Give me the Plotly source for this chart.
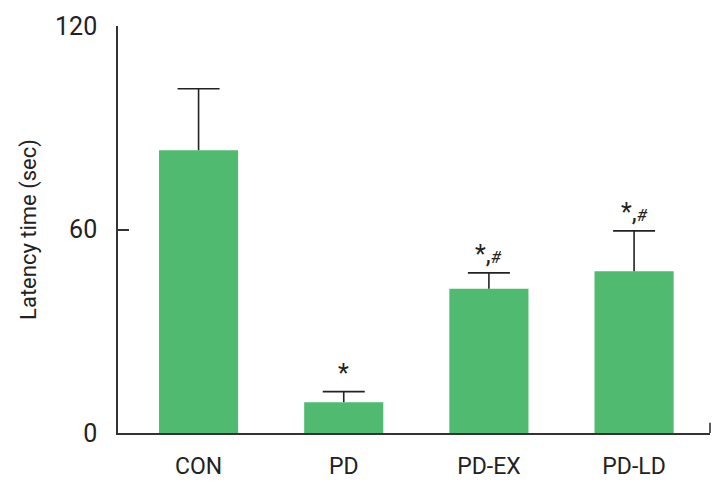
import plotly.graph_objects as go

# group means and SD (latency, sec)
GROUPS = ["CON", "PD", "PD-EX", "PD-LD"]
MEANS = [83.4, 9.1, 42.5, 47.7]
SDS = [18.1, 3.1, 4.7, 11.9]
MARKS = ["", "*", "*,<span style='font-size:17px'><i>#</i></span>", "*,<span style='font-size:17px'><i>#</i></span>"]
Y_TICKS = [0, 60, 120]

BAR_COLOR = "#50BB70"
AXIS_COLOR = "#333333"
ERR_COLOR = "#222222"
FONT = "Roboto, Arial, sans-serif"

xs = list(range(len(GROUPS)))
tops = [m + s for m, s in zip(MEANS, SDS)]

fig = go.Figure()

fig.add_trace(
    go.Bar(
        x=xs,
        y=MEANS,
        width=0.545,
        marker=dict(color=BAR_COLOR, line=dict(width=0)),
        showlegend=False,
        hoverinfo="skip",
    )
)

# upper error stems (mean -> mean + SD)
stem_x, stem_y = [], []
for x, m, t in zip(xs, MEANS, tops):
    stem_x += [x, x, None]
    stem_y += [m, t, None]
fig.add_trace(
    go.Scatter(
        x=stem_x, y=stem_y, mode="lines",
        line=dict(color=ERR_COLOR, width=1.6),
        showlegend=False, hoverinfo="skip",
    )
)

# caps
fig.add_trace(
    go.Scatter(
        x=xs, y=tops, mode="markers",
        marker=dict(symbol="line-ew", size=30, line=dict(color=ERR_COLOR, width=1.6)),
        showlegend=False, hoverinfo="skip",
    )
)

# significance marks above the error bars
for x, t, txt in zip(xs, tops, MARKS):
    if not txt:
        continue
    fig.add_annotation(
        x=x,
        y=t,
        text=txt,
        showarrow=False,
        yanchor="bottom",
        yshift=2,
        font=dict(family=FONT, size=25, color="#222222"),
    )

# small upward tick at the right end of the x axis
fig.add_shape(
    type="line",
    xref="paper", yref="paper",
    x0=1, x1=1, y0=0, y1=0.025,
    line=dict(color=AXIS_COLOR, width=1.6),
)

# the page body adds an 8px margin, so the figure is sized to fit inside it
fig.update_layout(
    width=710,
    height=476,
    paper_bgcolor="#FFFFFF",
    plot_bgcolor="#FFFFFF",
    margin=dict(l=110, r=8, t=18, b=51),
    font=dict(family=FONT, size=24, color="#222222"),
)

fig.update_xaxes(
    range=[-0.555, 3.523],
    tickmode="array",
    tickvals=xs,
    ticktext=GROUPS,
    showline=True,
    linecolor=AXIS_COLOR,
    linewidth=1.6,
    ticks="",
    showgrid=False,
    zeroline=False,
    automargin=False,
    ticklabelstandoff=12,
    tickfont=dict(size=23),
)

fig.update_yaxes(
    range=[0, 120],
    tickvals=Y_TICKS,
    showline=True,
    linecolor=AXIS_COLOR,
    linewidth=1.6,
    ticks="inside",
    ticklen=11,
    tickwidth=1.6,
    tickcolor=AXIS_COLOR,
    showgrid=False,
    zeroline=False,
    automargin=False,
    ticklabelstandoff=14,
    tickfont=dict(size=25),
    title=dict(text="Latency time (sec)", font=dict(size=22), standoff=12),
)

fig.write_html("out.html")
